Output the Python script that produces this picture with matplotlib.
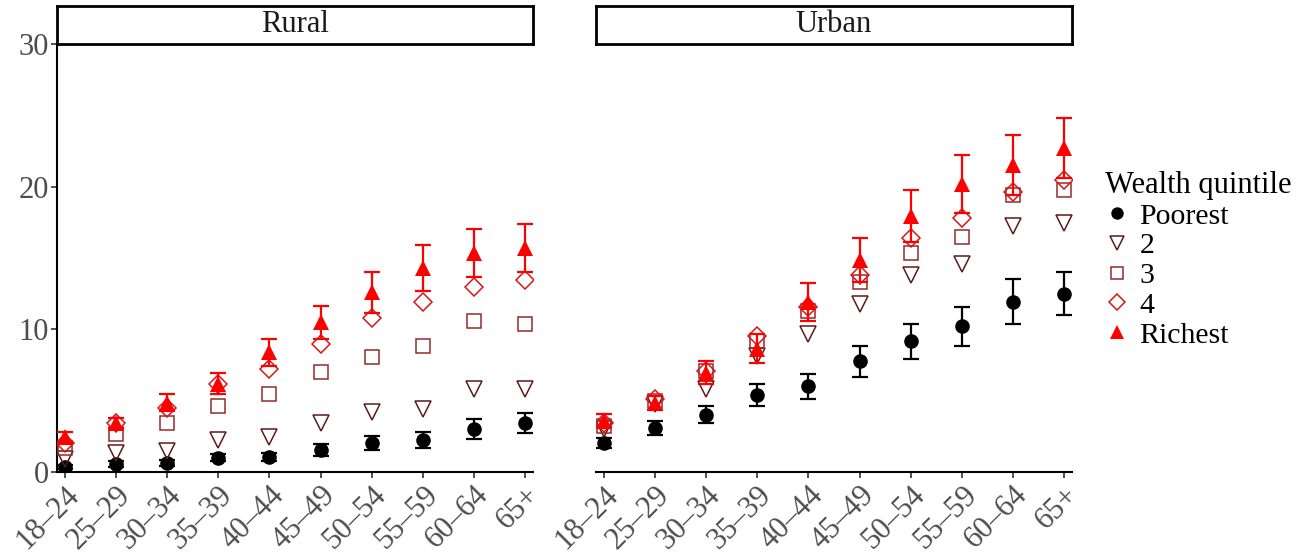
import numpy as np
import matplotlib
matplotlib.use("Agg")
import matplotlib.pyplot as plt
from matplotlib.lines import Line2D

plt.rcParams['font.family'] = ['Liberation Serif', 'DejaVu Serif']

age_groups = ["18\u201324", "25\u201329", "30\u201334", "35\u201339", "40\u201344",
              "45\u201349", "50\u201354", "55\u201359", "60\u201364", "65+"]
quintiles = ["Poorest", "2", "3", "4", "Richest"]

# rural panel
rural_poorest = [0.35, 0.55, 0.65, 1.0, 1.05, 1.55, 2.05, 2.25, 3.0, 3.45]
rural_poorest_err = [0.15, 0.2, 0.2, 0.25, 0.3, 0.4, 0.5, 0.55, 0.7, 0.7]
rural_q2 = [0.9, 1.35, 1.5, 2.25, 2.45, 3.4, 4.2, 4.45, 5.8, 5.85]
rural_q3 = [1.7, 2.65, 3.45, 4.65, 5.5, 7.0, 8.05, 8.8, 10.55, 10.35]
rural_q4 = [2.0, 3.4, 4.5, 6.2, 7.25, 9.0, 10.8, 11.9, 13.0, 13.45]
rural_richest = [2.45, 3.45, 4.85, 6.2, 8.4, 10.5, 12.6, 14.3, 15.35, 15.7]
rural_richest_err = [0.35, 0.35, 0.6, 0.75, 0.95, 1.15, 1.45, 1.6, 1.65, 1.7]

# urban panel
urban_poorest = [2.05, 3.1, 4.0, 5.4, 6.0, 7.75, 9.15, 10.2, 11.95, 12.5]
urban_poorest_err = [0.35, 0.5, 0.6, 0.8, 0.85, 1.1, 1.25, 1.4, 1.55, 1.5]
urban_q2 = [3.0, 4.8, 5.85, 8.15, 9.7, 11.8, 13.8, 14.6, 17.25, 17.45]
urban_q3 = [3.25, 5.0, 7.1, 9.2, 11.3, 13.3, 15.35, 16.5, 19.45, 19.8]
urban_q4 = [3.4, 5.1, 7.05, 9.5, 11.55, 13.8, 16.4, 17.8, 19.6, 20.5]
urban_richest = [3.6, 4.85, 6.95, 8.65, 11.9, 14.85, 17.95, 20.2, 21.5, 22.7]
urban_richest_err = [0.45, 0.5, 0.8, 1.0, 1.35, 1.55, 1.85, 2.05, 2.1, 2.1]

colors = ["black", "#5C1A1A", "#932B2B", "#D91616", "#FF0000"]
markers = ["o", "v", "s", "D", "^"]
msizes = [10.5, 12, 9.5, 9, 12]
filled = [True, False, False, False, True]

W, H = 1306, 554
fig = plt.figure(figsize=(W / 100, H / 100), dpi=100)

panels = [
    ("Rural", 57, True, [rural_poorest, rural_q2, rural_q3, rural_q4, rural_richest],
     rural_poorest_err, rural_richest_err),
    ("Urban", 596, False, [urban_poorest, urban_q2, urban_q3, urban_q4, urban_richest],
     urban_poorest_err, urban_richest_err),
]

pw = 476
top, bottom = 44, 472
x = np.arange(len(age_groups))

for title, left, show_y, series, err_lo, err_hi in panels:
    ax = fig.add_axes([left / W, (H - bottom) / H, pw / W, (bottom - top) / H])
    for i, vals in enumerate(series):
        c = colors[i]
        if i == 0 or i == 4:
            e = err_lo if i == 0 else err_hi
            ax.errorbar(x, vals, yerr=e, fmt="none", ecolor=c, elinewidth=1.6,
                        capsize=5.5, capthick=1.6, zorder=2 + i)
        if filled[i]:
            ax.plot(x, vals, ls="none", marker=markers[i], ms=msizes[i], color=c,
                    mec=c, mew=0, zorder=2 + i)
        else:
            ax.plot(x, vals, ls="none", marker=markers[i], ms=msizes[i], mfc="none",
                    mec=c, mew=1.1, zorder=2 + i)
    ax.set_xlim(-0.15, 9.15)
    ax.set_ylim(0, 30)
    ax.set_yticks([0, 10, 20, 30])
    ax.set_xticks(x)
    ax.set_xticklabels(age_groups, rotation=45, ha="right", va="top",
                       rotation_mode="anchor")
    ax.tick_params(axis="both", labelsize=22, labelcolor="#4d4d4d", color="#333333",
                   length=4, width=1.2, pad=2)
    for s in ["top", "right"]:
        ax.spines[s].set_visible(False)
    ax.spines["bottom"].set_linewidth(1.5)
    ax.spines["left"].set_linewidth(1.5)
    if not show_y:
        ax.spines["left"].set_visible(False)
        ax.tick_params(axis="y", left=False, labelleft=False)

    sx = fig.add_axes([left / W, (H - top) / H, pw / W, (top - 6) / H])
    sx.set_xticks([])
    sx.set_yticks([])
    for s in sx.spines.values():
        s.set_linewidth(2)
        s.set_color("black")
    sx.text(0.5, 0.5, title, ha="center", va="center", fontsize=22,
            color="#1a1a1a", transform=sx.transAxes)

handles = []
for i, q in enumerate(quintiles):
    if filled[i]:
        h = Line2D([], [], ls="none", marker=markers[i], ms=msizes[i] * 0.85,
                   color=colors[i], mew=0)
    else:
        h = Line2D([], [], ls="none", marker=markers[i], ms=msizes[i] * 0.85,
                   mfc="none", mec=colors[i], mew=1.1)
    handles.append(h)

leg = fig.legend(handles, quintiles, title="Wealth quintile", loc="upper left",
                 bbox_to_anchor=(1093 / W, 1 - 159 / H), frameon=False,
                 fontsize=21.5, title_fontsize=22, handlelength=0.8,
                 handletextpad=0.35, labelspacing=0.095, borderaxespad=0,
                 alignment="left")

fig.savefig("out.png", dpi=100)
